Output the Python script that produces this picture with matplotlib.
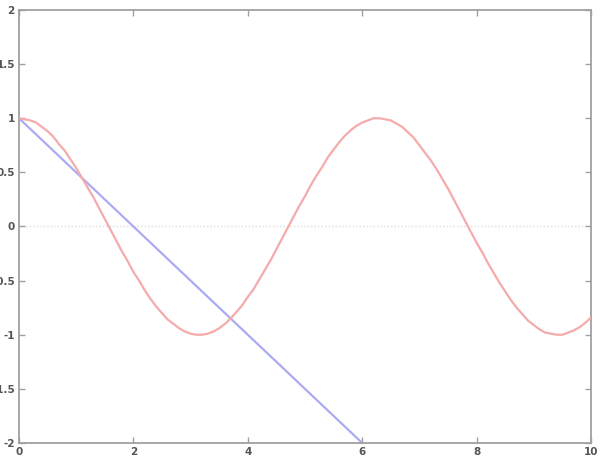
import matplotlib
matplotlib.use("Agg")
import matplotlib.pyplot as plt

# Red curve at steps of 0.1 along x
red_x = [i / 10 for i in range(101)]
red_y = [1.00, 0.99, 0.98, 0.96, 0.92, 0.88, 0.83, 0.76, 0.70, 0.62,
         0.54, 0.45, 0.36, 0.27, 0.17, 0.07, -0.03, -0.13, -0.23, -0.32,
         -0.42, -0.50, -0.59, -0.67, -0.74, -0.80, -0.86, -0.90, -0.94, -0.97,
         -0.99, -1.00, -1.00, -0.99, -0.97, -0.94, -0.90, -0.85, -0.79, -0.73,
         -0.65, -0.58, -0.49, -0.40, -0.31, -0.21, -0.11, -0.01, 0.09, 0.19,
         0.28, 0.38, 0.47, 0.55, 0.64, 0.71, 0.78, 0.84, 0.89, 0.93,
         0.96, 0.98, 1.00, 1.00, 0.99, 0.98, 0.95, 0.92, 0.87, 0.82,
         0.75, 0.68, 0.61, 0.53, 0.44, 0.35, 0.25, 0.15, 0.05, -0.05,
         -0.15, -0.24, -0.34, -0.43, -0.52, -0.60, -0.68, -0.75, -0.81, -0.87,
         -0.91, -0.95, -0.98, -0.99, -1.00, -1.00, -0.98, -0.96, -0.93, -0.89,
         -0.84]

# Blue line
blue_x = [0, 6]
blue_y = [1, -2]

xticks = [0, 2, 4, 6, 8, 10]
yticks = [-2, -1.5, -1, -0.5, 0, 0.5, 1, 1.5, 2]
ytick_labels = ["-2", "-1.5", "-1", "-0.5", "0", "0.5", "1", "1.5", "2"]

fig = plt.figure(figsize=(6.0, 4.68), dpi=100)
ax = fig.add_axes([19/600, 1 - 443/468, (591 - 19)/600, (443 - 10)/468])

ax.axhline(0, color="#dddddd", lw=1.0, ls=(0, (1, 1.5)), zorder=1)
ax.plot(red_x, red_y, color="#f5abab", lw=1.6, zorder=3)
ax.plot(blue_x, blue_y, color="#ababf5", lw=1.6, zorder=2)

ax.set_xlim(0, 10)
ax.set_ylim(-2, 2)
ax.set_xticks(xticks)
ax.set_xticklabels([str(t) for t in xticks])
ax.set_yticks(yticks)
ax.set_yticklabels(ytick_labels)

for s in ax.spines.values():
    s.set_color("#a0a0a0")
    s.set_linewidth(1.3)

ax.tick_params(direction="in", length=4, width=1, color="#a0a0a0",
               top=True, right=True, labelsize=7.5, labelcolor="#555555", pad=3)
for lab in ax.get_xticklabels() + ax.get_yticklabels():
    lab.set_fontweight("bold")

fig.savefig("out.png", dpi=100)
